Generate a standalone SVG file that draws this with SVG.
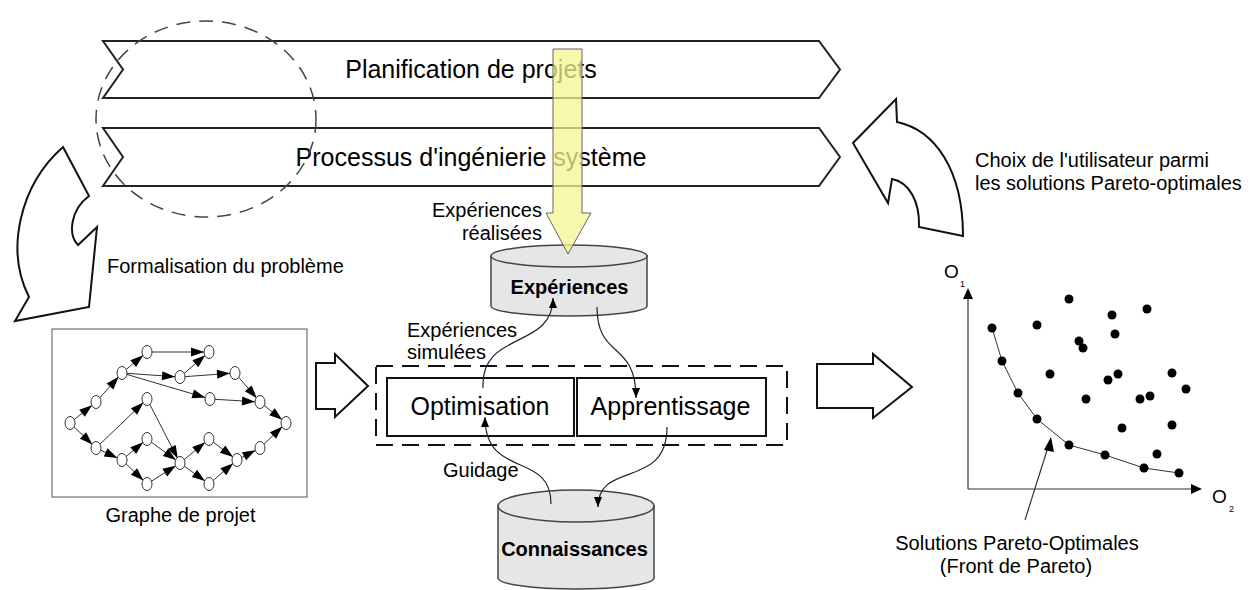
<svg xmlns="http://www.w3.org/2000/svg" width="1249" height="590" viewBox="0 0 1249 590">
<defs>
<style>
text{font-family:"Liberation Sans",Arial,sans-serif;fill:#000}
.big{font-size:25px}
.lbl{font-size:20px}
.bold{font-size:20px;font-weight:bold}
.chev{fill:#fff;stroke:#222;stroke-width:2}
.block{fill:#fff;stroke:#111;stroke-width:2}
.cyl{fill:#e6e6e6;stroke:#444;stroke-width:1.5}
.gn{fill:#fff;stroke:#333;stroke-width:1}
.ge{stroke:#333;stroke-width:1;marker-end:url(#gh)}
.conn{fill:none;stroke:#222;stroke-width:1.2;marker-end:url(#ah)}
.dot{fill:#000}
</style>
<marker id="gh" markerUnits="userSpaceOnUse" markerWidth="30" markerHeight="20" refX="18" refY="4.5" orient="auto" overflow="visible">
<path d="M0,0 L13,4.5 L0,9 z" fill="#000"/>
</marker>
<marker id="ah" markerUnits="userSpaceOnUse" markerWidth="20" markerHeight="20" refX="10" refY="4" orient="auto" overflow="visible">
<path d="M0,0 L10,4 L0,8 z" fill="#000"/>
</marker>
</defs>
<rect width="1249" height="590" fill="#fff"/>

<g id="planification">
<path class="chev" d="M103,41 L819,41 L840,69.5 L819,98 L103,98 L123,69.5 Z"/>
<text class="big" x="471" y="78" text-anchor="middle">Planification de projets</text>
</g>
<g id="processus">
<path class="chev" d="M103,128 L819,128 L840,157 L819,186 L103,186 L123,157 Z"/>
<text class="big" x="471" y="166" text-anchor="middle">Processus d'ingénierie système</text>
</g>
<g id="focus-circle">
<ellipse cx="206" cy="119" rx="110" ry="98" fill="none" stroke="#444" stroke-width="1.5" stroke-dasharray="14 9"/>
</g>

<g id="formalisation">
<path class="block" d="M63,147 L89,196 C70,210 68,235 78,245 L97,227 L89,307 L15,321 L29,297 C5,250 20,185 63,147 Z"/>
<text class="lbl" x="107" y="273">Formalisation du problème</text>
</g>

<g id="choix">
<path class="block" d="M896,99 L897,122 C935,130 963,170 963,236 L919,227 C920,200 908,182 892,179 L888,203 L853,143 Z"/>
<text class="lbl" x="975" y="167">Choix de l'utilisateur parmi</text>
<text class="lbl" x="975" y="190">les solutions Pareto-optimales</text>
</g>

<g id="graphe-projet">
<rect x="52" y="329" width="255" height="168" fill="#fff" stroke="#555" stroke-width="1"/>
<g>
<line class="ge" x1="70" y1="423" x2="96" y2="402"/>
<line class="ge" x1="96" y1="402" x2="122" y2="373"/>
<line class="ge" x1="122" y1="373" x2="147" y2="352"/>
<line class="ge" x1="147" y1="352" x2="209" y2="352"/>
<line class="ge" x1="122" y1="373" x2="180" y2="377"/>
<line class="ge" x1="180" y1="377" x2="209" y2="352"/>
<line class="ge" x1="180" y1="377" x2="235" y2="373"/>
<line class="ge" x1="122" y1="373" x2="210" y2="399"/>
<line class="ge" x1="235" y1="373" x2="260" y2="402"/>
<line class="ge" x1="210" y1="399" x2="260" y2="402"/>
<line class="ge" x1="260" y1="402" x2="286" y2="423"/>
<line class="ge" x1="70" y1="423" x2="96" y2="448"/>
<line class="ge" x1="96" y1="448" x2="147" y2="399"/>
<line class="ge" x1="96" y1="448" x2="122" y2="460"/>
<line class="ge" x1="147" y1="399" x2="180" y2="463"/>
<line class="ge" x1="122" y1="460" x2="147" y2="439"/>
<line class="ge" x1="122" y1="460" x2="147" y2="484"/>
<line class="ge" x1="147" y1="439" x2="180" y2="463"/>
<line class="ge" x1="147" y1="484" x2="180" y2="463"/>
<line class="ge" x1="180" y1="463" x2="209" y2="439"/>
<line class="ge" x1="180" y1="463" x2="209" y2="484"/>
<line class="ge" x1="209" y1="439" x2="237" y2="460"/>
<line class="ge" x1="209" y1="484" x2="237" y2="460"/>
<line class="ge" x1="237" y1="460" x2="260" y2="448"/>
<line class="ge" x1="260" y1="448" x2="286" y2="423"/>
</g>
<g>
<ellipse class="gn" cx="70" cy="423" rx="5" ry="6.5"/>
<ellipse class="gn" cx="96" cy="402" rx="5" ry="6.5"/>
<ellipse class="gn" cx="122" cy="373" rx="5" ry="6.5"/>
<ellipse class="gn" cx="147" cy="352" rx="5" ry="6.5"/>
<ellipse class="gn" cx="209" cy="352" rx="5" ry="6.5"/>
<ellipse class="gn" cx="180" cy="377" rx="5" ry="6.5"/>
<ellipse class="gn" cx="235" cy="373" rx="5" ry="6.5"/>
<ellipse class="gn" cx="210" cy="399" rx="5" ry="6.5"/>
<ellipse class="gn" cx="147" cy="399" rx="5" ry="6.5"/>
<ellipse class="gn" cx="260" cy="402" rx="5" ry="6.5"/>
<ellipse class="gn" cx="286" cy="423" rx="5" ry="6.5"/>
<ellipse class="gn" cx="96" cy="448" rx="5" ry="6.5"/>
<ellipse class="gn" cx="122" cy="460" rx="5" ry="6.5"/>
<ellipse class="gn" cx="147" cy="439" rx="5" ry="6.5"/>
<ellipse class="gn" cx="147" cy="484" rx="5" ry="6.5"/>
<ellipse class="gn" cx="180" cy="463" rx="5" ry="6.5"/>
<ellipse class="gn" cx="209" cy="439" rx="5" ry="6.5"/>
<ellipse class="gn" cx="209" cy="484" rx="5" ry="6.5"/>
<ellipse class="gn" cx="237" cy="460" rx="5" ry="6.5"/>
<ellipse class="gn" cx="260" cy="448" rx="5" ry="6.5"/>
</g>
<text class="lbl" x="180.5" y="522" text-anchor="middle">Graphe de projet</text>
</g>

<g id="arrow-left">
<path class="block" d="M316,363 L335,363 L335,354 L368,386 L335,417 L335,409 L316,409 Z"/>
</g>
<g id="arrow-right">
<path class="block" d="M817,364 L873,364 L873,354 L912,387 L873,418 L873,408 L817,408 Z"/>
</g>

<g id="experiences">
<path class="cyl" d="M491,256 L491,306 A78,10 0 0 0 647,306 L647,256 Z"/>
<ellipse class="cyl" cx="569" cy="256" rx="78" ry="11"/>
<text class="bold" x="569.5" y="294" text-anchor="middle">Expériences</text>
</g>

<g id="connaissances">
<path class="cyl" d="M498,506 L498,578 A78,11 0 0 0 654,578 L654,506 Z"/>
<ellipse class="cyl" cx="576" cy="506" rx="78" ry="16"/>
<text class="bold" x="574.5" y="556" text-anchor="middle">Connaissances</text>
</g>

<g id="moteur">
<rect x="376" y="366" width="411" height="79" fill="none" stroke="#111" stroke-width="2" stroke-dasharray="17 9"/>
</g>
<g id="optimisation">
<rect x="387" y="378" width="187" height="58" fill="#fff" stroke="#111" stroke-width="2"/>
<text class="big" x="480" y="415" text-anchor="middle">Optimisation</text>
</g>
<g id="apprentissage">
<rect x="577" y="378" width="189" height="58" fill="#fff" stroke="#111" stroke-width="2"/>
<text class="big" x="670.5" y="415" text-anchor="middle">Apprentissage</text>
</g>

<g id="yellow-arrow">
<path d="M553,49 L582,49 L582,213 L591,213 L568,254 L546,213 L553,213 Z" fill="#f6f690" fill-opacity="0.75" stroke="#666" stroke-width="1"/>
</g>

<g id="connectors">
<path class="conn" d="M483,388 C480,330 553,350 553,298"/>
<path class="conn" d="M597,307 C597,360 636,340 636,398"/>
<path class="conn" d="M551,504 C551,450 485,480 485,417"/>
<path class="conn" d="M667,427 C667,490 598,460 598,507"/>
</g>
<g id="connector-labels">
<text class="lbl" x="542" y="217" text-anchor="end">Expériences</text>
<text class="lbl" x="542" y="240" text-anchor="end">réalisées</text>
<text class="lbl" x="407" y="337">Expériences</text>
<text class="lbl" x="407" y="359">simulées</text>
<text class="lbl" x="443" y="477">Guidage</text>
</g>

<g id="pareto-chart">
<line x1="968" y1="489" x2="968" y2="298" stroke="#333" stroke-width="1.2"/>
<path d="M968,288 L963,299 L973,299 Z" fill="#000"/>
<line x1="968" y1="489" x2="1192" y2="489" stroke="#333" stroke-width="1.2"/>
<path d="M1202,489 L1191,484 L1191,494 Z" fill="#000"/>
<text x="944" y="278" style="font-size:19px">O</text>
<text x="960" y="287" style="font-size:9px">1</text>
<text x="1212" y="503" style="font-size:19px">O</text>
<text x="1229" y="512" style="font-size:9px">2</text>
<polyline points="992,328 1002,361 1018,393 1037,419 1069,445 1105,455 1144,468 1179,473" fill="none" stroke="#333" stroke-width="1"/>
<g class="dot">
<circle cx="992" cy="328" r="4.5"/>
<circle cx="1037" cy="325" r="4.5"/>
<circle cx="1069" cy="299" r="4.5"/>
<circle cx="1112" cy="315" r="4.5"/>
<circle cx="1147" cy="309" r="4.5"/>
<circle cx="1115" cy="334" r="4.5"/>
<circle cx="1079" cy="341" r="4.5"/>
<circle cx="1083" cy="348" r="4.5"/>
<circle cx="1002" cy="361" r="4.5"/>
<circle cx="1050" cy="374" r="4.5"/>
<circle cx="1118" cy="374" r="4.5"/>
<circle cx="1108" cy="380" r="4.5"/>
<circle cx="1172" cy="373" r="4.5"/>
<circle cx="1186" cy="389" r="4.5"/>
<circle cx="1086" cy="399" r="4.5"/>
<circle cx="1140" cy="399" r="4.5"/>
<circle cx="1150" cy="396" r="4.5"/>
<circle cx="1018" cy="393" r="4.5"/>
<circle cx="1037" cy="419" r="4.5"/>
<circle cx="1122" cy="428" r="4.5"/>
<circle cx="1172" cy="425" r="4.5"/>
<circle cx="1069" cy="445" r="4.5"/>
<circle cx="1105" cy="455" r="4.5"/>
<circle cx="1157" cy="454" r="4.5"/>
<circle cx="1144" cy="468" r="4.5"/>
<circle cx="1179" cy="473" r="4.5"/>
</g>
<line x1="1025" y1="520" x2="1049" y2="444" stroke="#333" stroke-width="1.2"/>
<path d="M1051,437 L1044,450 L1054,452 Z" fill="#000"/>
<text class="lbl" x="1017" y="550" text-anchor="middle">Solutions Pareto-Optimales</text>
<text class="lbl" x="1016" y="573" text-anchor="middle">(Front de Pareto)</text>
</g>
</svg>
